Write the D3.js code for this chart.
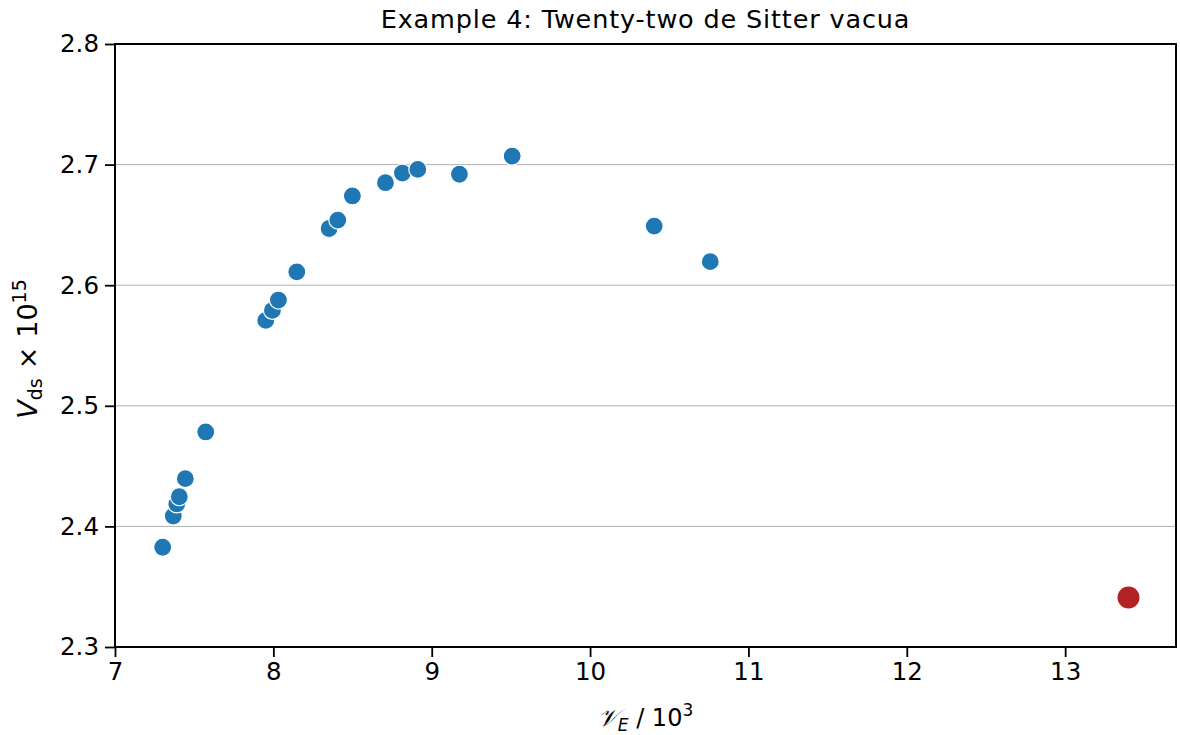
<!DOCTYPE html>
<html>
<head>
<meta charset="utf-8">
<script src="https://cdn.jsdelivr.net/npm/d3@7"></script>
<style>
  html, body { margin: 0; padding: 0; background: #fff; }
  svg { display: block; font-family: "DejaVu Sans", sans-serif; }
</style>
</head>
<body>
<svg id="chart" width="1180" height="735"></svg>
<script>
// Data
const vE = [7.301, 7.368, 7.390, 7.406, 7.444, 7.573, 7.952, 7.994, 8.032, 8.148,
            8.352, 8.407, 8.499, 8.708, 8.815, 8.912, 9.175, 9.508, 10.405, 10.759];
const vDS = [2.3827, 2.4086, 2.4186, 2.4246, 2.4396, 2.4783, 2.5708, 2.5791, 2.5877, 2.611,
             2.647, 2.654, 2.674, 2.685, 2.693, 2.696, 2.692, 2.707, 2.649, 2.6195];
const highlightE = [13.40];
const highlightDS = [2.341];
const xTicks = [7, 8, 9, 10, 11, 12, 13];
const yTicks = [2.3, 2.4, 2.5, 2.6, 2.7, 2.8];
const titleText = "Example 4: Twenty-two de Sitter vacua";

const svg = d3.select("#chart");
const margin = { left: 115, right: 4, top: 44, bottom: 88 };
const W = 1180, H = 735;
const x = d3.scaleLinear().domain([7, 13.70]).range([margin.left, W - margin.right]);
const y = d3.scaleLinear().domain([2.3, 2.8]).range([H - margin.bottom, margin.top]);

// grid
svg.append("g").selectAll("line").data(yTicks.filter(t => t > 2.3 && t < 2.8)).join("line")
  .attr("x1", x.range()[0]).attr("x2", x.range()[1])
  .attr("y1", d => y(d)).attr("y2", d => y(d))
  .attr("stroke", "#b0b0b0").attr("stroke-width", 1);

// axes
const xAxis = svg.append("g").attr("transform", `translate(0,${y.range()[0]})`)
  .call(d3.axisBottom(x).tickValues(xTicks).tickFormat(d3.format("d")).tickSize(10).tickSizeOuter(0).tickPadding(6));
const yAxis = svg.append("g").attr("transform", `translate(${x.range()[0]},0)`)
  .call(d3.axisLeft(y).tickValues(yTicks).tickFormat(d3.format(".1f")).tickSize(10).tickSizeOuter(0).tickPadding(6));
[xAxis, yAxis].forEach(a => {
  a.select(".domain").remove();
  a.selectAll(".tick line").attr("stroke", "#000").attr("stroke-width", 1.8);
  a.selectAll(".tick text").attr("fill", "#000").attr("font-size", 24.5).attr("font-family", "DejaVu Sans");
});

// frame
svg.append("rect")
  .attr("x", x.range()[0]).attr("y", y.range()[1])
  .attr("width", x.range()[1] - x.range()[0]).attr("height", y.range()[0] - y.range()[1])
  .attr("fill", "none").attr("stroke", "#000").attr("stroke-width", 2);

// points
const pts = vE.map((e, i) => ({ e, v: vDS[i] }));
svg.append("g").selectAll("circle").data(pts).join("circle")
  .attr("cx", d => x(d.e)).attr("cy", d => y(d.v)).attr("r", 9)
  .attr("fill", "#1f77b4").attr("stroke", "#fff").attr("stroke-width", 1.2);

const hp = highlightE.map((e, i) => ({ e, v: highlightDS[i] }));
svg.append("g").selectAll("circle").data(hp).join("circle")
  .attr("cx", d => x(d.e)).attr("cy", d => y(d.v)).attr("r", 11)
  .attr("fill", "#b22222");

// title
svg.append("text").attr("x", (x.range()[0] + x.range()[1]) / 2).attr("y", 28)
  .attr("text-anchor", "middle").attr("font-size", 25.5).attr("letter-spacing", 0.85)
  .attr("fill", "#000").text(titleText);

// x label
const xl = svg.append("text").attr("x", (x.range()[0] + x.range()[1]) / 2).attr("y", 726)
  .attr("text-anchor", "middle").attr("font-size", 24).attr("fill", "#000");
xl.append("tspan").attr("font-style", "italic").text("𝒱");
xl.append("tspan").attr("font-style", "italic").attr("font-size", 17).attr("dy", 5).text("E");
xl.append("tspan").attr("dy", -5).text(" / 10");
xl.append("tspan").attr("font-size", 17).attr("dy", -10).text("3");

// y label
const yl = svg.append("text").attr("transform", "translate(37,349) rotate(-90)")
  .attr("text-anchor", "middle").attr("font-size", 27).attr("fill", "#000");
yl.append("tspan").attr("font-style", "italic").text("V");
yl.append("tspan").attr("font-size", 19).attr("dy", 5).text("ds");
yl.append("tspan").attr("dy", -5).attr("dx", 9).text("×");
yl.append("tspan").attr("dx", 9).text("10");
yl.append("tspan").attr("font-size", 19).attr("dy", -11).text("15");
</script>
</body>
</html>
